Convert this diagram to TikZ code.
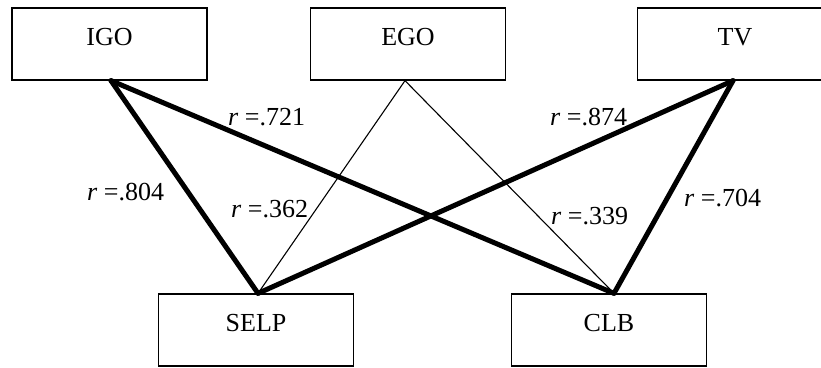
\documentclass[tikz,border=0pt]{standalone}
\usepackage{fontspec}
\setmainfont{Liberation Serif}
\begin{document}
\begin{tikzpicture}[x=1pt,y=-1pt,
  box/.style={draw, line width=1.3pt, rectangle, minimum width=195pt, minimum height=72pt,
    inner sep=0pt, text height=18pt, text depth=16pt, font=\fontsize{26}{30}\selectfont},
  strong/.style={line width=5pt, line cap=round},
  weak/.style={line width=1.1pt},
  coef/.style={anchor=base west, inner sep=0pt, font=\fontsize{26}{30}\selectfont}]
\clip (0,0) rectangle (821,367);
\useasboundingbox (0,0) rectangle (821,367);
% variable boxes
\node[box] (igo)  at (109.5,44) {IGO};
\node[box] (ego)  at (408,44)   {EGO};
\node[box] (tv)   at (735,44)   {TV};
\node[box] (selp) at (256,330)  {SELP};
\node[box] (clb)  at (609,330)  {CLB};
% attachment points
\coordinate (a1) at ([xshift=1.5pt]igo.south);
\coordinate (a2) at ([xshift=-3pt]ego.south);
\coordinate (a3) at ([xshift=-2pt]tv.south);
\coordinate (b1) at ([xshift=2pt]selp.north);
\coordinate (b2) at ([xshift=5pt]clb.north);
% correlations
\draw[weak] (a2) -- (b1);
\draw[weak] (a2) -- (b2);
\draw[strong] (a1) -- (b1);
\draw[strong] (a1) -- (b2);
\draw[strong] (a3) -- (b1);
\draw[strong] (a3) -- (b2);
% coefficients
\node[coef] (l1) at (228,125) {\textit{r} =.721};
\node[coef] (l2) at (550,125) {\textit{r} =.874};
\node[coef] (l3) at (87,200)  {\textit{r} =.804};
\node[coef] (l4) at (231,217) {\textit{r} =.362};
\node[coef] (l5) at (551,224) {\textit{r} =.339};
\node[coef] (l6) at (684,206) {\textit{r} =.704};
\end{tikzpicture}
\end{document}
